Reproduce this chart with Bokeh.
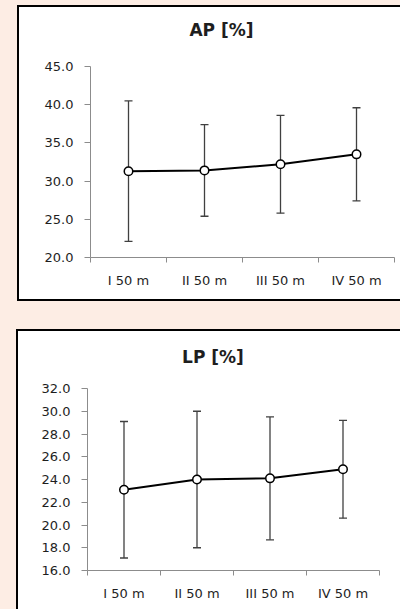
from bokeh.plotting import figure
from bokeh.models import (Range1d, FixedTicker, Whisker, ColumnDataSource, TeeHead,
                          PrintfTickFormatter, Spacer, Div)
from bokeh.layouts import column, row
from bokeh.embed import file_html
from bokeh.resources import INLINE

# ---- data ----
categories = ["I 50 m", "II 50 m", "III 50 m", "IV 50 m"]

ap_title = "AP [%]"
ap_mean = [31.3, 31.4, 32.2, 33.5]
ap_sd = [9.2, 6.0, 6.4, 6.1]
ap_ticks = [20, 25, 30, 35, 40, 45]

lp_title = "LP [%]"
lp_mean = [23.1, 24.0, 24.1, 24.9]
lp_sd = [6.0, 6.0, 5.4, 4.3]
lp_ticks = [16, 18, 20, 22, 24, 26, 28, 30, 32]

PEACH = "#fdede4"
AXIS_GRAY = "#8c8c8c"
TEXT = "#1e1e1e"
FONT = "DejaVu Sans"


def block(w, h, color):
    return Spacer(width=w, height=h, margin=0, styles={"background-color": color})


def title_div(text, w, h):
    html = ('<div style="width:%dpx; text-align:center; font-family:\'DejaVu Sans\'; '
            'font-size:17px; font-weight:bold; line-height:20px; color:%s; '
            'white-space:nowrap; margin:0; padding:0;">%s</div>' % (w, TEXT, text))
    return Div(text=html, width=w, height=h, margin=0, styles={"background-color": "white"})


def make_plot(means, sds, ticks, width, height, mb):
    xs = [i + 1 for i in range(len(categories))]
    lower = [m - s for m, s in zip(means, sds)]
    upper = [m + s for m, s in zip(means, sds)]
    src = ColumnDataSource(dict(x=xs, mean=means, lower=lower, upper=upper))

    p = figure(width=width, height=height, output_backend="svg", toolbar_location=None,
               x_range=Range1d(0.5, len(categories) + 0.5),
               y_range=Range1d(ticks[0], ticks[-1]),
               min_border_left=mb[0], min_border_right=mb[1],
               min_border_top=mb[2], min_border_bottom=mb[3],
               background_fill_color="white", border_fill_color="white", margin=0)
    p.outline_line_color = None
    p.xgrid.visible = False
    p.ygrid.visible = False

    # x axis: labels at category centres, tick marks at category boundaries
    p.xaxis.ticker = FixedTicker(ticks=xs, minor_ticks=[x - 0.5 for x in xs] + [xs[-1] + 0.5])
    p.xaxis.major_label_overrides = {x: c for x, c in zip(xs, categories)}
    p.xaxis.major_tick_out = 0
    p.xaxis.major_tick_in = 0
    p.xaxis.minor_tick_out = 5
    p.xaxis.minor_tick_in = 0
    p.xaxis.major_label_standoff = 10

    p.yaxis.ticker = FixedTicker(ticks=ticks, minor_ticks=[])
    p.yaxis.formatter = PrintfTickFormatter(format="%.1f")
    p.yaxis.major_tick_out = 6
    p.yaxis.major_tick_in = 0
    p.yaxis.minor_tick_out = 0
    p.yaxis.minor_tick_in = 0
    p.yaxis.major_label_standoff = 11

    for ax in (p.xaxis, p.yaxis):
        ax.axis_line_color = AXIS_GRAY
        ax.major_tick_line_color = AXIS_GRAY
        ax.minor_tick_line_color = AXIS_GRAY
        ax.major_label_text_font = FONT
        ax.major_label_text_font_size = "13px"
        ax.major_label_text_color = TEXT

    wcol = "#404040"
    w = Whisker(base="x", lower="lower", upper="upper", source=src,
                line_color=wcol, line_width=1.3,
                upper_head=TeeHead(size=8, line_color=wcol, line_width=1.3),
                lower_head=TeeHead(size=8, line_color=wcol, line_width=1.3))
    p.add_layout(w)

    p.line("x", "mean", source=src, line_color="black", line_width=2)
    p.scatter("x", "mean", source=src, size=8.5, fill_color="white",
              line_color="black", line_width=1.5)
    return p


# ---- panel 1 (content area 381 x 292, starting at x=19, y=7) ----
p1 = make_plot(ap_mean, ap_sd, ap_ticks, 381, 259, (71, 6, 26, 42))
t1 = row(block(24, 20, "white"), title_div(ap_title, 357, 20))
content1 = column(block(381, 13, "white"), t1, p1)
panel1 = column(block(400, 5, PEACH),
                row(block(17, 294, PEACH),
                    column(block(383, 2, "black"),
                           row(block(2, 292, "black"), content1))),
                row(block(17, 2, PEACH), block(383, 2, "black")))

gap = block(400, 28, PEACH)

# ---- panel 2 (content area 382 x 278, starting at x=18, y=331) ----
p2 = make_plot(lp_mean, lp_sd, lp_ticks, 382, 242, (69, 21, 21, 39))
t2 = row(block(8, 20, "white"), title_div(lp_title, 374, 20))
content2 = column(block(382, 16, "white"), t2, p2)
panel2 = row(block(16, 280, PEACH),
             column(block(384, 2, "black"),
                    row(block(2, 278, "black"), content2)))

layout = column(panel1, gap, panel2)

open("out.html", "w").write(file_html(layout, INLINE))
